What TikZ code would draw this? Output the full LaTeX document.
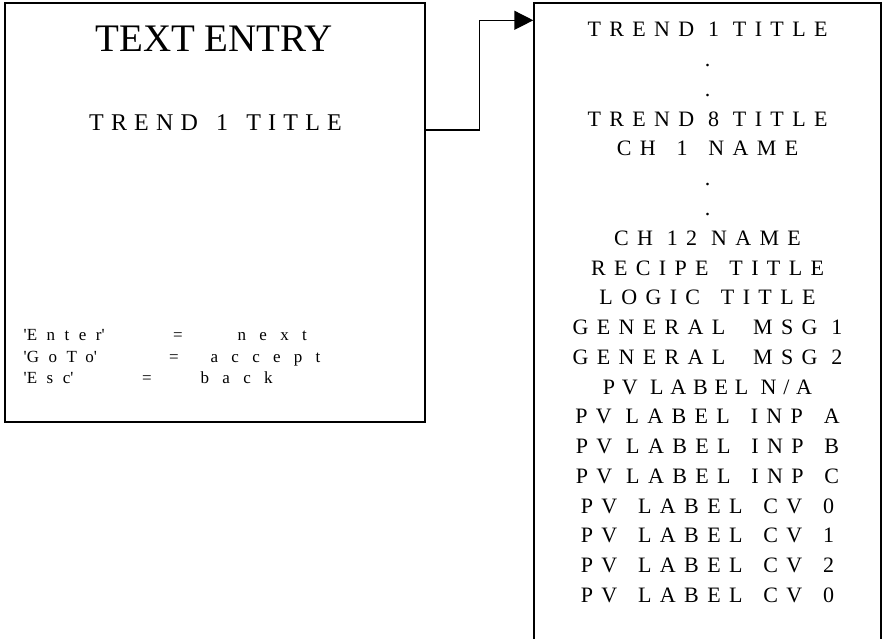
\documentclass[tikz,border=0pt]{standalone}
\usepackage{fontspec}
\setmainfont{Liberation Serif}
\usetikzlibrary{arrows.meta}
\newcommand\spread[1]{\addfontfeatures{LetterSpace=#1}}
\newcommand\gap{\hspace{7pt}\ }

\begin{document}
\begin{tikzpicture}[x=1pt,y=-1pt,line width=1.4pt,
  box/.style={draw,inner sep=0pt},
  txt/.style={inner sep=0pt,anchor=base},
  row/.style={txt,font=\fontsize{22}{26}\selectfont\spread{38}},
  key/.style={txt,font=\fontsize{17}{20}\selectfont\spread{56}},
  val/.style={key,font=\fontsize{17}{20}\selectfont\spread{78}}]
\useasboundingbox (0,0) rectangle (883,639);

% screens
\node[box,minimum width=420pt,minimum height=419pt] (entry) at (215,212.5) {};
\node[box,minimum width=347pt,minimum height=660pt] (list) at (707.5,333) {};

% text entry screen
\node[txt,font=\fontsize{39}{44}\selectfont] (head) at (214,52) {TEXT ENTRY};
\node[txt,font=\fontsize{24}{28}\selectfont\spread{30}] (field) at (215.5,131)
  {TREND\hspace{5pt} 1\hspace{5pt} TITLE};
\foreach \k/\ex/\v/\vx/\y [count=\i] in
  {Enter/178/next/237/340, GoTo/174/accept/210/362, Esc/147/back/200/383}
{
  \node[key,anchor=base west] (k\i) at (23,\y) {\textquotesingle\k\textquotesingle};
  \node[key] (eq\i) at (\ex,\y) {=};
  \node[val,anchor=base west] (v\i) at (\vx,\y) {\v};
}

% list of titles
\foreach \t [count=\i from 0] in
  {TREND 1 TITLE, ., ., TREND 8 TITLE, CH\gap 1\gap NAME, ., ., CH 12 NAME,
   RECIPE\gap TITLE, LOGIC\gap TITLE, GENERAL~ MSG 1, GENERAL~ MSG 2,
   \spread{31}PV LABEL N/A, PV LABEL\gap INP\gap A, PV LABEL\gap INP\gap B,
   PV LABEL\gap INP\gap C, PV\gap LABEL\gap CV\gap 0, PV\gap LABEL\gap CV\gap 1,
   PV\gap LABEL\gap CV\gap 2, PV\gap LABEL\gap CV\gap 0}
  \node[row] (r\i) at (707.5,37+29.75*\i) {\t};

% link
\coordinate (out) at ([yshift=82.5pt]entry.east);
\coordinate (in) at ([yshift=-18pt]list.north west);
\draw[-{Triangle[length=19pt,width=19pt]}] (out) -- ++(54,0) |- (in);
\end{tikzpicture}
\end{document}
